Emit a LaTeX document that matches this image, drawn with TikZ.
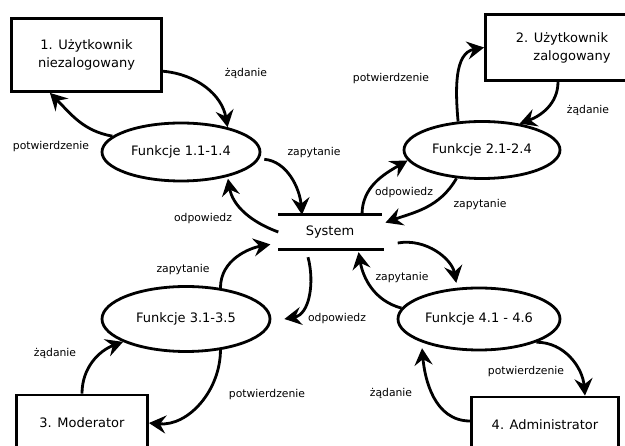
\documentclass[tikz,border=0pt]{standalone}
\usepackage{fontspec}
\setmainfont{DejaVu Sans}
\usetikzlibrary{positioning,shapes.geometric,arrows.meta}

\begin{document}
\begin{tikzpicture}[x=1pt,y=1pt,
  box/.style={draw, line width=2.8pt, rectangle, inner sep=0pt, align=center,
    font=\fontsize{13}{18}\selectfont},
  func/.style={draw, line width=2.8pt, ellipse, inner sep=0pt,
    font=\fontsize{13}{16}\selectfont},
  store/.style={inner sep=0pt, minimum width=103pt, minimum height=34pt,
    font=\fontsize{13}{16}\selectfont},
  lbl/.style={inner sep=0pt, font=\fontsize{10.8}{13}\selectfont},
  flow/.style={line width=2.8pt, -{Stealth[length=17pt,width=18pt,inset=6pt]}}]
  \useasboundingbox (0,0) rectangle (625,-446);

  % actors
  \node[box, minimum width=150pt, minimum height=73pt] (b1) at (86.5,-55)
    {1. Użytkownik\\niezalogowany};
  \node[box, minimum width=153pt, minimum height=66pt] (b2) at (562,-47.5)
    {2. Użytkownik\\\hspace*{20pt}zalogowany};
  \node[box, minimum width=131pt, minimum height=56pt] (b3) at (82,-423)
    {3. Moderator};
  \node[box, minimum width=147pt, minimum height=56pt] (b4) at (545,-425)
    {4. Administrator};

  % processes
  \node[func, minimum width=158pt, minimum height=58pt] (f1) at (181,-152) {Funkcje 1.1-1.4};
  \node[func, minimum width=156pt, minimum height=57pt] (f2) at (482,-150) {Funkcje 2.1-2.4};
  \node[func, minimum width=168pt, minimum height=65pt] (f3) at (186,-319) {Funkcje 3.1-3.5};
  \node[func, minimum width=162pt, minimum height=62pt] (f4) at (479,-319) {Funkcje 4.1 - 4.6};

  % data store
  \node[store] (s) at (330,-232) {System};
  \draw[line width=2.8pt] (s.north west) -- (s.north east)
    (s.south west) -- ([xshift=2pt]s.south east);

  % flows
  \draw[flow] (b1.-12) to[out=-5,in=100] (f1.28);
  \draw[flow] (f1.167) to[out=170,in=-45] (b1.-134);
  \draw[flow, shorten <=5pt] (f1.-5) to[out=-5,in=95] ([xshift=-28pt]s.north);
  \draw[flow, shorten >=2pt] (s.west) to[out=160,in=-80] (f1.-28);

  \draw[flow] (f2.130) to[out=95,in=190] (b2.west);
  \draw[flow] ([xshift=-4pt]b2.south) to[out=-90,in=20] (f2.35);
  \draw[flow] ([xshift=32pt]s.north) to[out=90,in=-150] (f2.188);
  \draw[flow, shorten >=4pt] (f2.228) to[out=-120,in=20] ([yshift=8pt]s.east);

  \draw[flow, shorten >=8pt] (f3.42) to[out=90,in=190] ([yshift=-11pt]s.west);
  \draw[flow] ([shift={(-22pt,-8pt)}]s.south) to[out=-75,in=10] ([xshift=13pt]f3.east);
  \draw[flow] (b3.north) to[out=90,in=200] (f3.200);
  \draw[flow] (f3.-42) to[out=-90,in=-5] (b3.east);

  \draw[flow, shorten >=5pt] ([shift={(16pt,-11pt)}]s.east) to[out=10,in=100] (f4.125);
  \draw[flow, shorten >=3pt] (f4.172) to[out=165,in=-80] ([xshift=28pt]s.south);
  \draw[flow] (f4.-22) to[out=0,in=95] ([xshift=40pt]b4.north);
  \draw[flow, shorten >=6pt] ([yshift=4pt]b4.west) to[out=180,in=-85] (f4.202);

  % labels
  \node[lbl] (l1) at (246,-73) {żądanie};
  \node[lbl] (l2) at (51,-147) {potwierdzenie};
  \node[lbl] (l3) at (314,-153) {zapytanie};
  \node[lbl] (l4) at (203,-219) {odpowiedz};
  \node[lbl] (l5) at (391,-79) {potwierdzenie};
  \node[lbl] (l6) at (588,-110) {żądanie};
  \node[lbl] (l7) at (404,-193) {odpowiedz};
  \node[lbl] (l8) at (480,-205) {zapytanie};
  \node[lbl] (l9) at (183,-270) {zapytanie};
  \node[lbl] (l10) at (337,-319) {odpowiedz};
  \node[lbl] (l11) at (55,-353) {żądanie};
  \node[lbl] (l12) at (267,-395) {potwierdzenie};
  \node[lbl] (l14) at (402,-278) {zapytanie};
  \node[lbl] (l15) at (526,-372) {potwierdzenie};
  \node[lbl] (l16) at (391,-393) {żądanie};
\end{tikzpicture}
\end{document}
